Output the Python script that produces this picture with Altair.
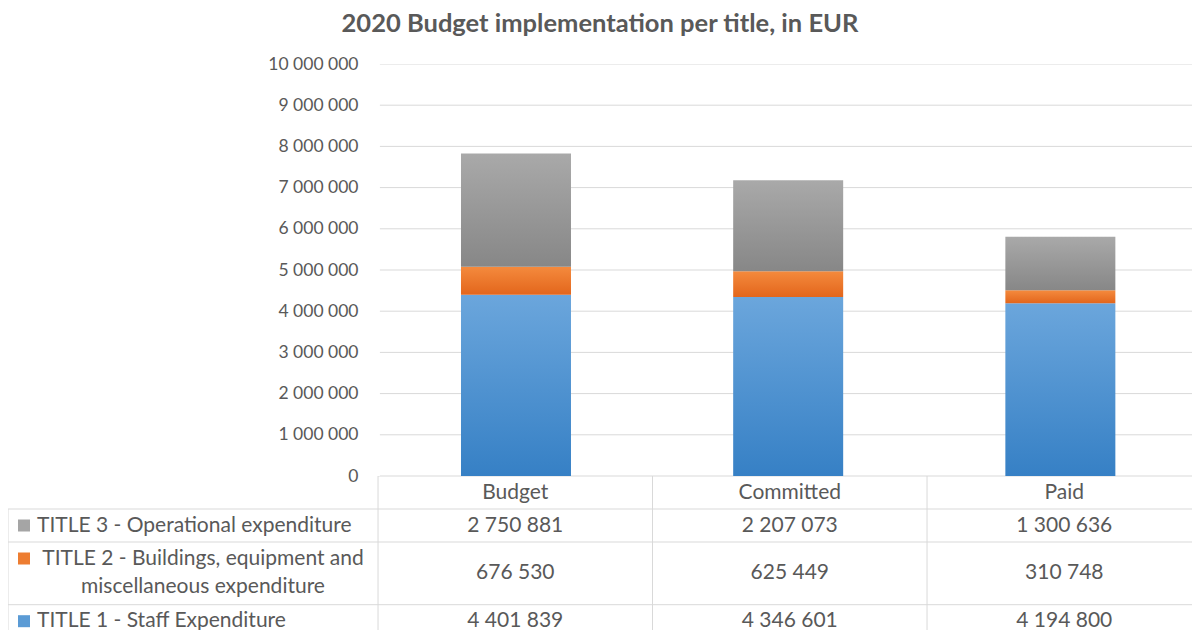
import altair as alt
import pandas as pd

# ---------------- data ----------------
categories = ["Budget", "Committed", "Paid"]
series_names = [
    "TITLE 1 - Staff Expenditure",
    "TITLE 2 - Buildings, equipment and miscellaneous expenditure",
    "TITLE 3 - Operational expenditure",
]
# how the names are wrapped inside the data table ("|" = line break)
table_labels = [
    "TITLE 1 - Staff Expenditure",
    "TITLE 2 - Buildings, equipment and|miscellaneous expenditure",
    "TITLE 3 - Operational expenditure",
]
title1_values = [4401839, 4346601, 4194800]
title2_values = [676530, 625449, 310748]
title3_values = [2750881, 2207073, 1300636]
y_ticks = [0, 1000000, 2000000, 3000000, 4000000, 5000000,
           6000000, 7000000, 8000000, 9000000, 10000000]

# ---------------- style ----------------
FONT = "Lato"
TEXT = "#595959"
GRID = "#d9d9d9"
key_colors = ["#5b9bd5", "#ed7d31", "#a5a5a5"]
bar_gradients = [("#6ba6dc", "#3680c5"), ("#f48a3d", "#e3661c"), ("#a9a9a9", "#878787")]
LABEL_COL = 1.348          # width of the table's legend column, in category bands
L = -LABEL_COL
n_cat = len(categories)
BAND_PX = 274.5
W = 1184                   # visible width (the chart is cropped on the right)
X_MAX = L + W / BAND_PX
ROW_PX = 33
TABLE_H = 154              # visible height of the data table (cropped at the bottom)
TFS = 21                   # table font size

NUM_EXPR = "replace(replace(format(datum.value, ',d'), ',', ' '), ',', ' ')"

# ---------------- frames ----------------
series_values = [title1_values, title2_values, title3_values]
rows = []
for s, (name, label, vals) in enumerate(zip(series_names, table_labels, series_values)):
    for c, cat in enumerate(categories):
        rows.append({"series": name, "label": label, "s": s, "cat": cat, "ci": c, "value": vals[c]})
df = pd.DataFrame(rows)

# table structure (top -> bottom: header, TITLE 3, TITLE 2, TITLE 1)
table_rows = []
top = 1.0
for s in reversed(range(len(series_names))):
    n_lines = table_labels[s].count("|") + 1
    h = 1 + 0.9 * (n_lines - 1)
    table_rows.append({"s": s, "top": top, "bottom": top + h, "mid": top + h / 2,
                       "first": top + 0.5, "lines": n_lines, "label": table_labels[s],
                       "series": series_names[s], "xl": L, "xm": L / 2})
    top += h
table_bottom = top
rows_df = pd.DataFrame(table_rows)
vals_df = df.merge(rows_df[["s", "mid"]], on="s")

header_df = pd.DataFrame({"cat": categories, "ci": list(range(n_cat))})

borders = [{"x": 0, "x2": n_cat, "y": 0, "y2": 0}]
for r in table_rows:
    borders.append({"x": L, "x2": n_cat, "y": r["top"], "y2": r["top"]})
borders.append({"x": L, "x2": n_cat, "y": table_bottom, "y2": table_bottom})
for c in range(n_cat + 1):
    borders.append({"x": c, "x2": c, "y": 0, "y2": table_bottom})
borders.append({"x": L, "x2": L, "y": 1, "y2": table_bottom})
borders_df = pd.DataFrame(borders)

grid_df = pd.DataFrame({"tick": y_ticks})

# ---------------- scales ----------------
xscale = alt.Scale(domain=[L, X_MAX], nice=False, zero=False)
yscale = alt.Scale(domain=[0, y_ticks[-1]], nice=False, zero=False)
yaxis = alt.Axis(values=y_ticks, labelExpr=NUM_EXPR, grid=False, ticks=False, domain=False,
                 labelPadding=0, offset=-350, labelFont=FONT, labelFontSize=17.5,
                 labelColor=TEXT, title=None)
tscale = alt.Scale(domain=[0, TABLE_H / ROW_PX], reverse=True, nice=False, zero=False)

# ---------------- bar view ----------------
gridlines = alt.Chart(grid_df).transform_calculate(
    x0="0", x1=str(n_cat)
).mark_rule(color=GRID, strokeWidth=1, clip=True).encode(
    x=alt.X("x0:Q", scale=xscale, axis=None),
    x2="x1:Q",
    y=alt.Y("tick:Q", scale=yscale, axis=yaxis),
)

stacked = alt.Chart(df).transform_calculate(
    xc="datum.ci + 0.5"
).transform_stack(
    stack="value", groupby=["cat"], as_=["y0", "y1"],
    sort=[alt.SortField("s", order="ascending")],
)

bar_layers = []
for s, (c_top, c_bot) in enumerate(bar_gradients):
    grad = {"gradient": "linear", "x1": 0, "y1": 0, "x2": 0, "y2": 1,
            "stops": [{"offset": 0, "color": c_top}, {"offset": 1, "color": c_bot}]}
    bar_layers.append(
        stacked.transform_filter(f"datum.s == {s}").mark_bar(size=110, color=grad).encode(
            x=alt.X("xc:Q", scale=xscale, axis=None),
            y=alt.Y("y0:Q", scale=yscale, axis=yaxis),
            y2="y1:Q",
        )
    )

bars_view = alt.layer(gridlines, *bar_layers).properties(width=W, height=412)

# ---------------- table view ----------------
border_layer = alt.Chart(borders_df).mark_rule(color=GRID, strokeWidth=1, clip=True).encode(
    x=alt.X("x:Q", scale=xscale, axis=None), x2="x2:Q",
    y=alt.Y("y:Q", scale=tscale, axis=None), y2="y2:Q",
)

header_layer = alt.Chart(header_df).transform_calculate(
    xc="datum.ci + 0.5", yc="0.5"
).mark_text(font=FONT, fontSize=TFS, color=TEXT, align="center", baseline="middle",
            clip=True).encode(
    x=alt.X("xc:Q", scale=xscale, axis=None),
    y=alt.Y("yc:Q", scale=tscale, axis=None),
    text="cat:N",
)

value_layer = alt.Chart(vals_df).transform_calculate(
    xc="datum.ci + 0.5", txt=NUM_EXPR
).mark_text(font=FONT, fontSize=TFS, color=TEXT, align="center", baseline="middle",
            clip=True).encode(
    x=alt.X("xc:Q", scale=xscale, axis=None),
    y=alt.Y("mid:Q", scale=tscale, axis=None),
    text="txt:N",
)

key_layer = alt.Chart(rows_df).mark_square(size=144, filled=True, opacity=1, xOffset=16,
                                           clip=True).encode(
    x=alt.X("xl:Q", scale=xscale, axis=None),
    y=alt.Y("first:Q", scale=tscale, axis=None),
    color=alt.Color("series:N", scale=alt.Scale(domain=series_names, range=key_colors), legend=None),
)

label_single = alt.Chart(rows_df).transform_filter("datum.lines == 1").mark_text(
    font=FONT, fontSize=TFS, color=TEXT, align="left", baseline="middle", dx=29, clip=True
).encode(
    x=alt.X("xl:Q", scale=xscale, axis=None),
    y=alt.Y("mid:Q", scale=tscale, axis=None),
    text="label:N",
)

label_multi = alt.Chart(rows_df).transform_filter("datum.lines > 1").transform_calculate(
    lines_txt="split(datum.label, '|')"
).mark_text(
    font=FONT, fontSize=TFS, color=TEXT, align="center", baseline="middle", dx=10, dy=-14,
    lineHeight=28, clip=True
).encode(
    x=alt.X("xm:Q", scale=xscale, axis=None),
    y=alt.Y("mid:Q", scale=tscale, axis=None),
    text="lines_txt:N",
)

table_view = alt.layer(border_layer, header_layer, value_layer, key_layer,
                       label_single, label_multi).properties(width=W, height=TABLE_H)

chart = alt.vconcat(bars_view, table_view, spacing=0, bounds="flush").properties(
    title=alt.TitleParams("2020 Budget implementation per title, in EUR", font=FONT,
                          fontSize=25.5, fontWeight="bold", color=TEXT, anchor="middle",
                          offset=18),
    padding={"top": 3, "left": 0, "right": 0, "bottom": 0},
    background="white",
).configure_view(stroke=None)

chart.save("out.html", embed_options={"renderer": "svg", "actions": False})
